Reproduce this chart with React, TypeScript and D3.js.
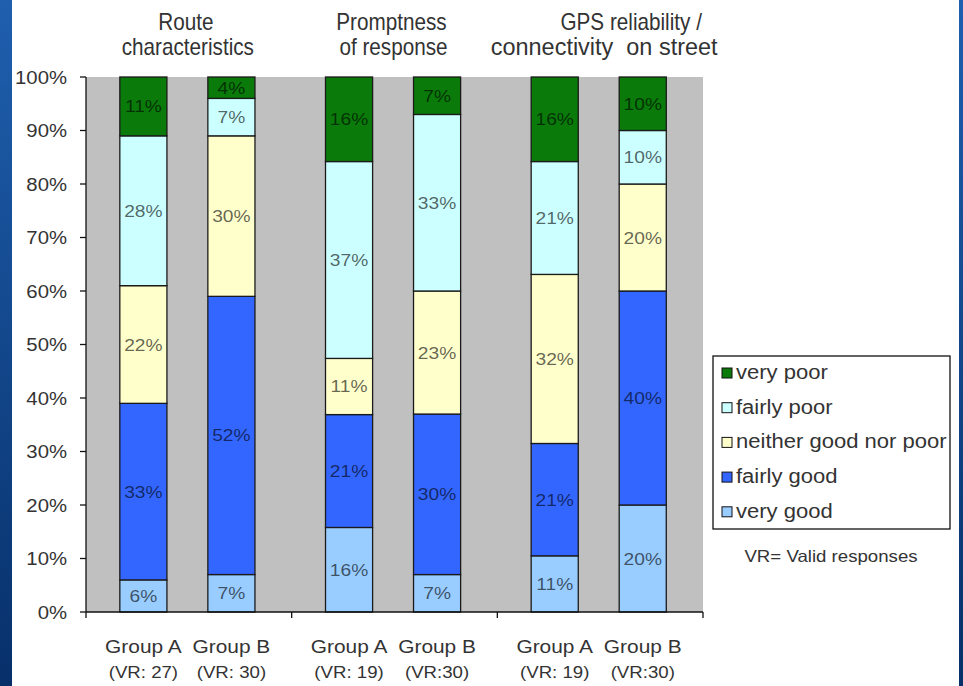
import React from "react";
import * as d3 from "d3";

// Survey results: share of ratings per aspect and respondent group (percent)
const aspectTitles: string[][] = [
  ["Route", "characteristics"],
  ["Promptness", "of response"],
  ["GPS reliability /", "connectivity  on street"],
];
const groupNames = ["Group A", "Group B"];
const validResponses = ["(VR: 27)", "(VR: 30)", "(VR: 19)", "(VR:30)", "(VR: 19)", "(VR:30)"];

const ratings = ["very good", "fairly good", "neither good nor poor", "fairly poor", "very poor"];
const veryGood = [6, 7, 15.8, 7, 10.5, 20];
const fairlyGood = [33, 52, 21.1, 30, 21.0, 40];
const neither = [22, 30, 10.5, 23, 31.6, 20];
const fairlyPoor = [28, 7, 36.8, 33, 21.1, 10];
const veryPoor = [11, 4, 15.8, 7, 15.8, 10];

const yTicks = [0, 10, 20, 30, 40, 50, 60, 70, 80, 90, 100];
const ratingColors = ["#99ccff", "#3366ff", "#ffffcc", "#ccffff", "#0a7a0a"];

const W = 963;
const H = 686;
const plot = { left: 86, right: 703, top: 77, bottom: 612 };
const FONT = "'Liberation Sans', Arial, sans-serif";
const SX = 1.13; // wide text rendering used across the chart

type Row = { aspect: number; group: string; vr: string; [k: string]: any };

const rows: Row[] = validResponses.map((vr, i) => ({
  aspect: Math.floor(i / 2),
  group: groupNames[i % 2],
  vr,
  "very good": veryGood[i],
  "fairly good": fairlyGood[i],
  "neither good nor poor": neither[i],
  "fairly poor": fairlyPoor[i],
  "very poor": veryPoor[i],
}));

function WText(props: {
  x: number;
  y: number;
  size: number;
  sx?: number;
  anchor?: "start" | "middle" | "end";
  fill?: string;
  opacity?: number;
  children: React.ReactNode;
}) {
  const { x, y, size, sx = SX, anchor = "start", fill = "#333", opacity = 1, children } = props;
  return (
    <text
      transform={`translate(${x},${y}) scale(${sx},1)`}
      fontFamily={FONT}
      fontSize={size}
      textAnchor={anchor}
      fill={fill}
      fillOpacity={opacity}
      style={{ whiteSpace: "pre" }}
    >
      {children}
    </text>
  );
}

export default function App() {
  const y = d3.scaleLinear().domain([0, 100]).range([plot.bottom, plot.top]);
  const xAspect = d3
    .scaleBand<number>()
    .domain(aspectTitles.map((_, i) => i))
    .range([plot.left, plot.right])
    .paddingInner(0)
    .paddingOuter(0);
  const bw = xAspect.bandwidth();
  const xGroup = d3.scalePoint<string>().domain(groupNames).range([0.279 * bw, 0.707 * bw]);
  const barW = 0.229 * bw;
  const barCenter = (r: Row) => (xAspect(r.aspect) as number) + (xGroup(r.group) as number);

  const stack = d3.stack<Row>().keys(ratings);
  const series = stack(rows);
  const color = d3.scaleOrdinal<string, string>().domain(ratings).range(ratingColors);

  const boundaries = [...xAspect.domain().map((d) => xAspect(d) as number), plot.right];

  const legendTop = 356;
  const legendStep = 34.7;
  const legendOrder = [...ratings].reverse();

  return (
    <svg
      width={W}
      height={H}
      style={{ position: "absolute", left: 0, top: 0, display: "block" }}
    >
      <defs>
        <linearGradient id="edgeBlue" x1="0" y1="0" x2="0" y2="1">
          <stop offset="0" stopColor="#1f5fae" />
          <stop offset="1" stopColor="#07306a" />
        </linearGradient>
      </defs>
      <rect x={0} y={0} width={W} height={H} fill="#ffffff" />
      <rect x={0} y={0} width={12} height={H} fill="url(#edgeBlue)" />
      <rect x={959} y={0} width={4} height={H} fill="url(#edgeBlue)" />

      {/* plot area */}
      <rect
        x={plot.left}
        y={plot.top}
        width={plot.right - plot.left}
        height={plot.bottom - plot.top}
        fill="#c0c0c0"
      />

      {/* stacked bars */}
      {series.map((s) => (
        <g key={s.key}>
          {s.map((seg, i) => {
            const r = seg.data as Row;
            const y0 = y(seg[0]);
            const y1 = y(seg[1]);
            return (
              <rect
                key={i}
                x={barCenter(r) - barW / 2}
                y={y1}
                width={barW}
                height={y0 - y1}
                fill={color(s.key)}
                stroke="#1a1a1a"
                strokeWidth={1.3}
              />
            );
          })}
        </g>
      ))}

      {/* segment labels */}
      {series.map((s) => (
        <g key={"lab-" + s.key}>
          {s.map((seg, i) => {
            const r = seg.data as Row;
            const v = seg[1] - seg[0];
            const cy = (y(seg[0]) + y(seg[1])) / 2;
            return (
              <WText
                key={i}
                x={barCenter(r)}
                y={cy + 6}
                size={17}
                anchor="middle"
                fill="#000"
                opacity={0.62}
              >
                {Math.round(v) + "%"}
              </WText>
            );
          })}
        </g>
      ))}

      {/* y axis */}
      <line x1={plot.left} x2={plot.left} y1={plot.top} y2={plot.bottom} stroke="#111" strokeWidth={1.3} />
      {yTicks.map((t) => (
        <g key={t}>
          <line x1={plot.left - 6} x2={plot.left} y1={y(t)} y2={y(t)} stroke="#111" strokeWidth={1.3} />
          <WText x={67} y={y(t) + 6.5} size={18} anchor="end">
            {t + "%"}
          </WText>
        </g>
      ))}

      {/* x axis */}
      <line x1={plot.left} x2={plot.right} y1={plot.bottom} y2={plot.bottom} stroke="#111" strokeWidth={1.3} />
      {boundaries.map((bx, i) => (
        <line key={i} x1={bx} x2={bx} y1={plot.bottom} y2={plot.bottom + 6} stroke="#111" strokeWidth={1.3} />
      ))}
      {rows.map((r, i) => (
        <g key={"xl" + i}>
          <WText x={barCenter(r)} y={653} size={18.5} anchor="middle">
            {r.group}
          </WText>
          <WText x={barCenter(r)} y={678} size={16.5} anchor="middle">
            {r.vr}
          </WText>
        </g>
      ))}

      {/* aspect titles */}
      {aspectTitles.map((lines, i) => {
        const cx = (xAspect(i) as number) + bw / 2;
        const offsets = i === 2 ? [31, 4] : [-3, -1];
        const sx2 = i === 2 ? 1.02 : 0.9;
        return (
          <g key={"t" + i}>
            <WText x={cx + offsets[0]} y={30} size={23} sx={0.9} anchor="middle">
              {lines[0]}
            </WText>
            <WText x={cx + offsets[1]} y={55} size={23} sx={sx2} anchor="middle">
              {lines[1]}
            </WText>
          </g>
        );
      })}

      {/* legend */}
      <rect x={713} y={legendTop} width={237} height={173} fill="#ffffff" stroke="#111" strokeWidth={1.3} />
      {legendOrder.map((k, i) => {
        const by = legendTop + 23 + i * legendStep;
        return (
          <g key={k}>
            <rect x={722} y={by - 11} width={10} height={10} fill={color(k)} stroke="#111" strokeWidth={1} />
            <WText x={736} y={by} size={19.5} sx={1.13}>
              {k}
            </WText>
          </g>
        );
      })}
      <WText x={831} y={562} size={16.5} anchor="middle">
        VR= Valid responses
      </WText>
    </svg>
  );
}
